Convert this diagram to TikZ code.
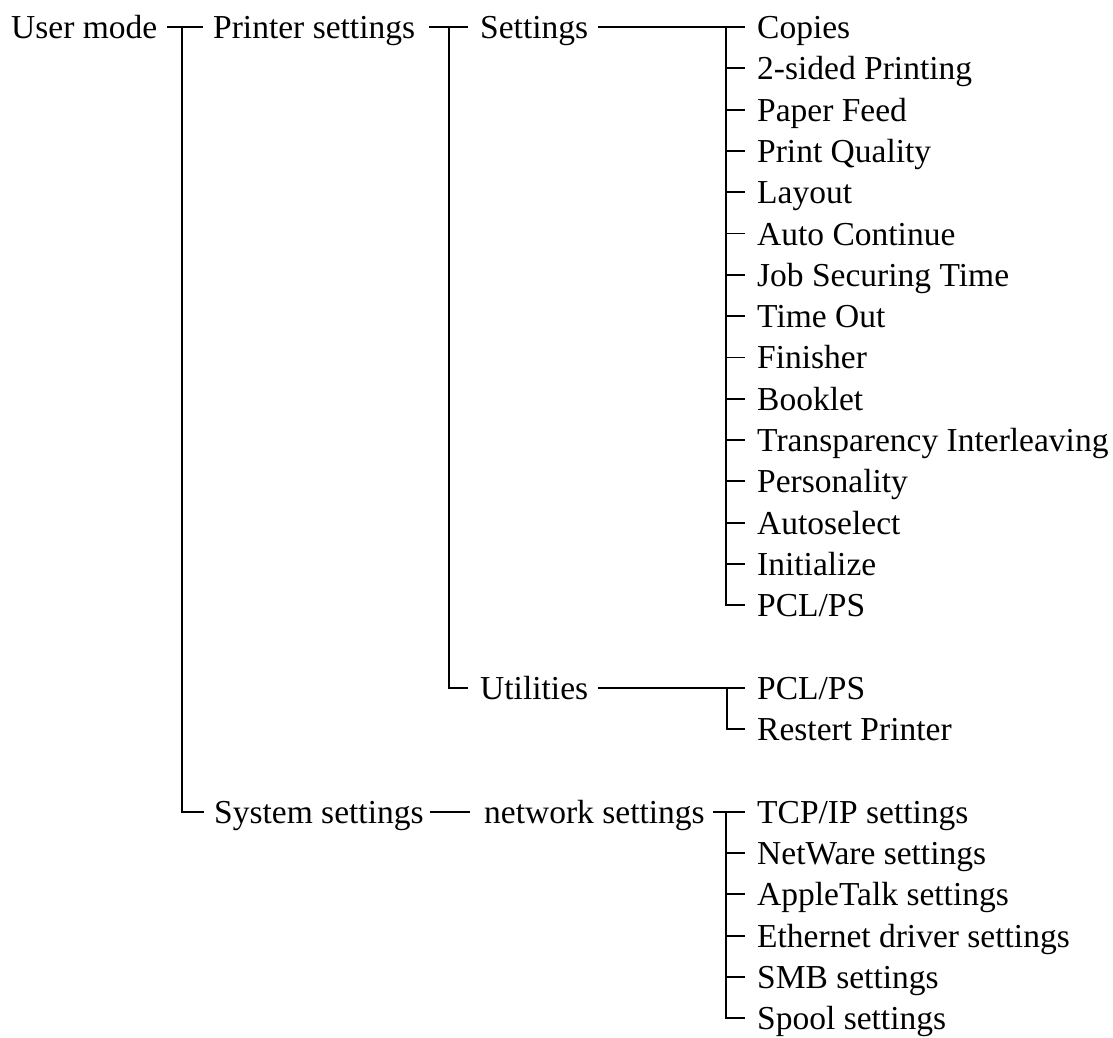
\documentclass[tikz,border=0pt]{standalone}
\usepackage{fontspec}
\setmainfont{Liberation Serif}
% vertical position of tree row #1
\newcommand\rowpos[1]{-(27+41.3*(#1))}
\begin{document}
\begin{tikzpicture}[x=1pt,y=1pt,
  lbl/.style={anchor=west, inner sep=0pt, text height=30pt, text depth=7pt,
              font=\fontsize{33.5}{40}\selectfont},
  wire/.style={line width=1.8pt}]
\useasboundingbox (0,0) rectangle (1113,-1037);

% first and second levels
\node[lbl] (um) at (11,{\rowpos{0}}) {User mode};
\node[lbl] (ps) at (213,{\rowpos{0}}) {Printer settings};
\node[lbl] (ss) at (214,{\rowpos{19}}) {System settings};
\node[lbl] (st) at (480,{\rowpos{0}}) {Settings};
\node[lbl] (ut) at (480,{\rowpos{16}}) {Utilities};
\node[lbl] (ns) at (484,{\rowpos{19}}) {network settings};

% leaves
\foreach \i/\t in {0/{Copies}, 1/{2-sided Printing}, 2/{Paper Feed}, 3/{Print Quality},
  4/{Layout}, 5/{Auto Continue}, 6/{Job Securing Time}, 7/{Time Out}, 8/{Finisher},
  9/{Booklet}, 10/{Transparency Interleaving}, 11/{Personality}, 12/{Autoselect},
  13/{Initialize}, 14/{PCL/PS}}
  \node[lbl] (s\i) at (757,{\rowpos{\i}}) {\t};
\node[lbl] (u0) at (757,{\rowpos{16}}) {PCL/PS};
\node[lbl] (u1) at (757,{\rowpos{17}}) {Restert Printer};
\foreach \i/\t in {0/{TCP/IP settings}, 1/{NetWare settings}, 2/{AppleTalk settings},
  3/{Ethernet driver settings}, 4/{SMB settings}, 5/{Spool settings}}
  \node[lbl] (n\i) at (757,{\rowpos{19+\i}}) {\t};

% branch points
\coordinate (ja) at (182,{\rowpos{0}});
\coordinate (jb) at (449,{\rowpos{0}});
\coordinate (jc) at (726,{\rowpos{0}});
\coordinate (jd) at (727,{\rowpos{16}});
\coordinate (je) at (726,{\rowpos{19}});

% User mode
\draw[wire] ([xshift=10pt]um.east) -- ([xshift=-10pt]ps.west);
\draw[wire] (ja) |- ([xshift=-10pt]ss.west);

% Printer settings
\draw[wire] ([xshift=14pt]ps.east) -- ([xshift=-12pt]st.west);
\draw[wire] (jb) |- ([xshift=-12pt]ut.west);

% Settings
\draw[wire] ([xshift=10pt]st.east) -- ([xshift=-12pt]s0.west);
\foreach \i in {1,...,13}
  \draw[wire] (jc |- s\i.west) -- ([xshift=-12pt]s\i.west);
\draw[wire] (jc) |- ([xshift=-12pt]s14.west);

% Utilities
\draw[wire] ([xshift=10pt]ut.east) -- ([xshift=-12pt]u0.west);
\draw[wire] (jd) |- ([xshift=-12pt]u1.west);

% System settings / network settings
\draw[wire] ([xshift=6pt]ss.east) -- ([xshift=-14pt]ns.west);
\draw[wire] ([xshift=8pt]ns.east) -- ([xshift=-12pt]n0.west);
\foreach \i in {1,...,4}
  \draw[wire] (je |- n\i.west) -- ([xshift=-12pt]n\i.west);
\draw[wire] (je) |- ([xshift=-12pt]n5.west);
\end{tikzpicture}
\end{document}
